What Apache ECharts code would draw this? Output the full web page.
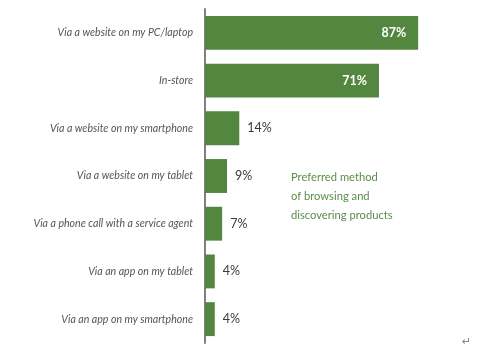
<!DOCTYPE html>
<html><head><meta charset="utf-8">
<script src="https://cdn.jsdelivr.net/npm/echarts@6/dist/echarts.min.js"></script>
<style>html,body{margin:0;padding:0;background:#fff}#c{width:490px;height:362px}</style>
</head><body><div id="c"></div>
<script>
const categories = [
  "Via a website on my PC/laptop",
  "In-store",
  "Via a website on my smartphone",
  "Via a website on my tablet",
  "Via a phone call with a service agent",
  "Via an app on my tablet",
  "Via an app on my smartphone"
];
const values = [87, 71, 14, 9, 7, 4, 4];
const annotation = "Preferred method\nof browsing and\ndiscovering products";

const GREEN = "#53863f";
const data = values.map(v => {
  const inside = v > 50;
  return {
    value: v,
    label: inside
      ? { position: "insideRight", distance: 12, color: "#ffffff", fontWeight: "bold", fontSize: 12.5 }
      : { position: "right", distance: 8, color: "#3a3a3a", fontWeight: "normal", fontSize: 12.5 }
  };
});

const chart = echarts.init(document.getElementById("c"), null, { renderer: "canvas" });
chart.setOption({
  animation: false,
  grid: { left: 205, right: 40, top: 9, bottom: 19, containLabel: false },
  xAxis: {
    type: "value", min: 0, max: 100, show: false
  },
  yAxis: {
    type: "category",
    inverse: true,
    data: categories,
    axisLine: { show: true, lineStyle: { color: "#808080", width: 2 } },
    axisTick: { show: false },
    splitLine: { show: false },
    axisLabel: {
      margin: 12,
      fontFamily: "Lato",
      fontStyle: "italic",
      fontSize: 10.6,
      color: "#555555"
    }
  },
  series: [{
    type: "bar",
    data: data,
    barCategoryGap: "29%",
    itemStyle: { color: GREEN },
    label: {
      show: true,
      fontFamily: "Lato",
      formatter: p => p.value + "%"
    }
  }],
  graphic: [
    {
      type: "text", left: 291, top: 168,
      style: { text: annotation, fill: "#5b8c4a", font: "11.2px Lato", lineHeight: 19 }
    },
    {
      type: "text", left: 462, top: 337,
      style: { text: "↵", fill: "#888888", font: "11px 'DejaVu Sans'" }
    }
  ]
});
</script></body></html>
